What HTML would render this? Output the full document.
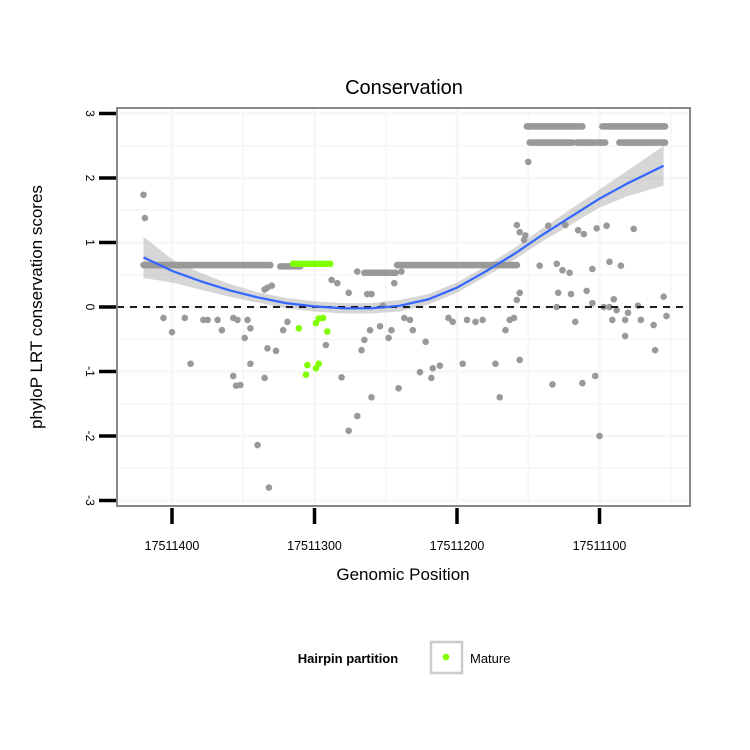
<!DOCTYPE html>
<html><head><meta charset="utf-8"><style>
body{margin:0;background:#fff}
svg{display:block;font-family:"Liberation Sans",sans-serif}
</style></head><body>
<svg id="c" width="750" height="750"></svg>
<script>
const yTicks=[3,2,1,0,-1,-2,-3];
const xTicks=[17511400,17511300,17511200,17511100];
const xTickLabels=["17511400","17511300","17511200","17511100"];
const segStart=[17511420,17511324,17511265,17511242,17511151,17511098,17511149,17511116,17511086];
const segEnd=[17511331,17511310,17511243,17511158,17511112,17511054,17511119,17511096,17511054];
const segScore=[0.65,0.63,0.53,0.65,2.8,2.8,2.55,2.55,2.55];
const grayPos=[17511420,17511419,17511406,17511400,17511391,17511387,17511378,17511375,17511368,17511365,17511357,17511354,17511347,17511345,17511357,17511355,17511352,17511349,17511345,17511340,17511335,17511333,17511332,17511327,17511322,17511319,17511335,17511333,17511330,17511288,17511284,17511276,17511292,17511281,17511276,17511270,17511267,17511265,17511260,17511261,17511254,17511248,17511260,17511252,17511246,17511241,17511237,17511233,17511231,17511222,17511226,17511218,17511217,17511212,17511206,17511203,17511196,17511193,17511187,17511182,17511173,17511170,17511166,17511163,17511160,17511158,17511156,17511156,17511158,17511156,17511153,17511152,17511150,17511136,17511124,17511115,17511111,17511102,17511095,17511076,17511142,17511130,17511126,17511121,17511105,17511093,17511085,17511129,17511120,17511109,17511105,17511090,17511073,17511055,17511093,17511088,17511080,17511130,17511091,17511133,17511112,17511117,17511103,17511100,17511097,17511082,17511071,17511082,17511062,17511053,17511061,17511263,17511244,17511239,17511270];
const grayScore=[1.74,1.38,-0.17,-0.39,-0.17,-0.88,-0.2,-0.2,-0.2,-0.36,-0.17,-0.2,-0.2,-0.88,-1.07,-1.22,-1.21,-0.48,-0.33,-2.14,-1.1,-0.64,-2.8,-0.68,-0.36,-0.23,0.27,0.3,0.33,0.42,0.37,0.22,-0.59,-1.09,-1.92,-1.69,-0.67,-0.51,-1.4,-0.36,-0.3,-0.48,0.2,0.02,-0.36,-1.26,-0.17,-0.2,-0.36,-0.54,-1.01,-1.1,-0.95,-0.91,-0.17,-0.23,-0.88,-0.2,-0.23,-0.2,-0.88,-1.4,-0.36,-0.2,-0.17,0.11,0.22,-0.82,1.27,1.16,1.04,1.11,2.25,1.26,1.27,1.19,1.13,1.22,1.26,1.21,0.64,0.67,0.57,0.53,0.59,0.7,0.64,0.22,0.2,0.25,0.06,0.12,0.02,0.16,0.0,-0.05,-0.09,0.0,-0.2,-1.2,-1.18,-0.23,-1.07,-2.0,0.0,-0.2,-0.2,-0.45,-0.28,-0.14,-0.67,0.2,0.37,0.55,0.55];
const greenStart=17511315, greenEnd=17511289, greenScore=0.65;
const greenPos=[17511311,17511305,17511306,17511299,17511297,17511299,17511297,17511291,17511294];
const greenScores=[-0.33,-0.9,-1.05,-0.25,-0.18,-0.95,-0.88,-0.38,-0.17];
const fitPos=[17511420,17511400,17511380,17511360,17511340,17511320,17511300,17511280,17511260,17511240,17511220,17511200,17511180,17511160,17511140,17511120,17511100,17511080,17511055];
const fitVal=[0.77,0.56,0.40,0.26,0.15,0.06,0.01,-0.02,-0.02,0.02,0.12,0.30,0.55,0.82,1.12,1.40,1.68,1.92,2.19];
const fitLo=[0.45,0.38,0.27,0.16,0.07,-0.02,-0.07,-0.10,-0.10,-0.07,0.04,0.22,0.47,0.73,1.02,1.28,1.54,1.72,1.88];
const fitHi=[1.09,0.74,0.53,0.36,0.23,0.14,0.09,0.06,0.06,0.11,0.20,0.38,0.63,0.91,1.22,1.52,1.82,2.12,2.50];

const L=117,R=690,T=108,B=506;
const X=p=>172+(17511400-p)*1.425;
const Y=v=>307-v*64.5;
const svg=document.getElementById('c');
const NS='http://www.w3.org/2000/svg';
function mk(tag,attrs,parent){const e=document.createElementNS(NS,tag);for(const k in attrs)e.setAttribute(k,attrs[k]);(parent||svg).appendChild(e);return e;}

// panel
const panel=mk('rect',{x:L,y:T,width:R-L,height:B-T,fill:'#fff'});


// grid
const grid=mk('g',{stroke:'#f6f6f6'});


for(let v=-3;v<=3;v+=0.5){mk('line',{x1:L,x2:R,y1:Y(v),y2:Y(v),'stroke-width':v%1===0?2.5:1.5},grid);}
for(let p=17511450;p>=17511050;p-=50){const x=X(p);if(x>L&&x<R)mk('line',{x1:x,x2:x,y1:T,y2:B,'stroke-width':p%100===0?2.5:1.5},grid);}

// band
let d='';
fitPos.forEach((p,i)=>{d+=(i?'L':'M')+X(p)+','+Y(fitHi[i]);});
for(let i=fitPos.length-1;i>=0;i--)d+='L'+X(fitPos[i])+','+Y(fitLo[i]);
const band=mk('path',{d:d+'Z',fill:'#999',opacity:0.4});



// points
const pts=mk('g',{fill:'#999'});


segStart.forEach((s,i)=>{for(let p=s;p>=segEnd[i];p--){mk('circle',{cx:X(p),cy:Y(segScore[i]),r:3.3},pts);}});
grayPos.forEach((p,i)=>{mk('circle',{cx:X(p),cy:Y(grayScore[i]),r:3.3},pts);});

// zero line
const zl=mk('line',{x1:L,x2:R,y1:Y(0),y2:Y(0),stroke:'#000','stroke-width':1.8,'stroke-dasharray':'7,6'});



const gp=mk('g',{fill:'#7fff00'});


for(let p=greenStart;p>=greenEnd;p-=2){mk('circle',{cx:X(p),cy:Y(greenScore+((p%4)?0.02:-0.02)),r:3.3},gp);}
greenPos.forEach((p,i)=>{mk('circle',{cx:X(p),cy:Y(greenScores[i]),r:3.3},gp);});

// fit line
let fd='';fitPos.forEach((p,i)=>{fd+=(i?'L':'M')+X(p)+','+Y(fitVal[i]);});
const fl=mk('path',{d:fd,fill:'none',stroke:'#3366ff','stroke-width':2.2});



// border
const bd=mk('rect',{x:L,y:T,width:R-L,height:B-T,fill:'none',stroke:'#888','stroke-width':2});



// y ticks
yTicks.forEach(v=>{
  const t=mk('line',{x1:99,x2:116,y1:Y(v),y2:Y(v),stroke:'#000','stroke-width':3.5});
  
  
  const tx=mk('text',{x:0,y:0,transform:`translate(86,${Y(v)}) rotate(90)`,'text-anchor':'middle','font-size':12});
  tx.textContent=String(v);
  
  
});
xTicks.forEach((p,i)=>{
  const t=mk('line',{x1:X(p),x2:X(p),y1:508,y2:524,stroke:'#000','stroke-width':3.5});
  
  
  const tx=mk('text',{x:X(p),y:550,'text-anchor':'middle','font-size':12.5});
  tx.textContent=xTickLabels[i];
  
  
});
</script>
<svg width="0" height="0"></svg>
<div style="position:absolute;left:0;top:0;width:750px;height:750px;pointer-events:none">
<svg width="750" height="750" style="font-family:'Liberation Sans',sans-serif">
<text x="404" y="94" text-anchor="middle" font-size="20">Conservation</text>
<text transform="translate(42,307) rotate(-90)" text-anchor="middle" font-size="17">phyloP LRT conservation scores</text>
<text x="403" y="580" text-anchor="middle" font-size="17">Genomic Position</text>
<g>
<text x="348" y="663" text-anchor="middle" font-size="13" font-weight="bold">Hairpin partition</text>
<rect x="431" y="642" width="31" height="31" fill="#fff" stroke="#ccc" stroke-width="2.5"/>
<circle cx="446" cy="657" r="3.3" fill="#7fff00"/>
<text x="470" y="663" font-size="13">Mature</text>
</g>
</svg></div>
</body></html>
